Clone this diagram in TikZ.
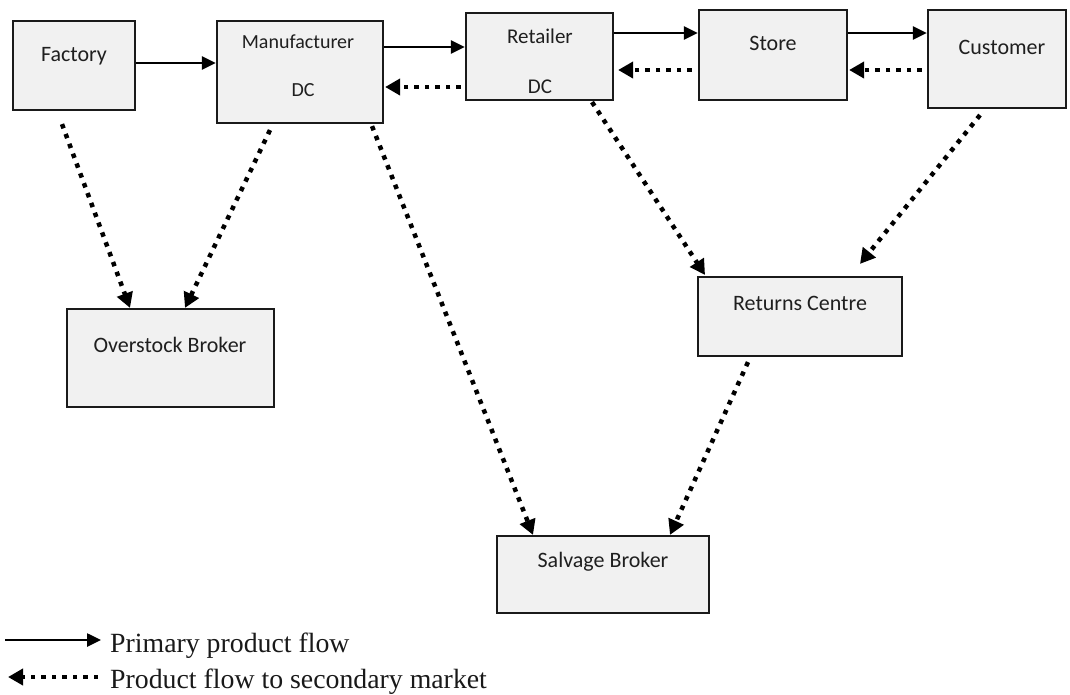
\documentclass[tikz,border=0pt]{standalone}
\usepackage{fontspec}
\setmainfont{Liberation Serif}
\newfontfamily\boxfont{Carlito}
\usetikzlibrary{arrows.meta}
\definecolor{boxfill}{HTML}{F1F1F1}
\definecolor{boxline}{HTML}{1A1A1A}
\tikzset{
  box/.style={draw=boxline,line width=2.2pt,fill=boxfill,inner sep=0pt},
  lbl/.style={font=\boxfont\fontsize{22}{26}\selectfont,text=black!88,inner sep=0pt},
  lblsmall/.style={font=\boxfont\fontsize{20}{24}\selectfont,text=black!88,inner sep=0pt},
  lblmid/.style={font=\boxfont\fontsize{21}{25}\selectfont,text=black!88,inner sep=0pt},
  prim/.style={line width=2.6pt,-{Triangle[length=14pt,width=13pt]}},
  sec/.style={line width=4.5pt,dash pattern=on 4.5pt off 6pt,-{Triangle[length=15pt,width=16pt]}},
  legtext/.style={font=\fontsize{27.8}{31}\selectfont,anchor=base west,inner sep=0pt,text=black!90}
}
\begin{document}
\begin{tikzpicture}[x=1pt,y=-1pt]
\useasboundingbox (0,0) rectangle (1070,694);
% boxes
\node[box,minimum width=122pt,minimum height=89pt] (factory) at (74,65.5) {};
\node[box,minimum width=166pt,minimum height=102pt] (manuf) at (300,72) {};
\node[box,minimum width=147pt,minimum height=87pt] (retailer) at (539.5,56.5) {};
\node[box,minimum width=148pt,minimum height=90pt] (store) at (773,55) {};
\node[box,minimum width=138pt,minimum height=98pt] (customer) at (997,59) {};
\node[box,minimum width=207pt,minimum height=98pt] (over) at (170.5,358) {};
\node[box,minimum width=204pt,minimum height=79pt] (returns) at (800,316.5) {};
\node[box,minimum width=212pt,minimum height=77pt] (salvage) at (603,574.5) {};
% labels
\node[lbl] (tfactory) at (74,56) {Factory};
\node[lblsmall] (tmanuf) at (298,42) {Manufacturer};
\node[lblsmall] (tmdc) at (303,90) {DC};
\node[lblmid] (tretailer) at (540,36) {Retailer};
\node[lblmid] (trdc) at (540,87) {DC};
\node[lbl] (tstore) at (773,43) {Store};
\node[lbl] (tcustomer) at (1002,47) {Customer};
\node[lbl] (tover) at (170,345) {Overstock Broker};
\node[lbl] (treturns) at (800,303) {Returns Centre};
\node[lbl] (tsalvage) at (603,562) {Salvage Broker};
% primary flow
\draw[prim] ([yshift=2.5pt]factory.east) -- ([yshift=9pt]manuf.west);
\draw[prim] ([yshift=25pt]manuf.east) -- ([yshift=9.5pt]retailer.west);
\draw[prim] ([yshift=23.5pt]retailer.east) -- ([yshift=22pt]store.west);
\draw[prim] ([yshift=22pt]store.east) -- ([yshift=26pt]customer.west);
% secondary flow, horizontal
\draw[sec] ([xshift=-4pt,yshift=-30.5pt]retailer.west) -- ([xshift=1pt,yshift=-15pt]manuf.east);
\draw[sec] ([xshift=-6pt,yshift=-15pt]store.west) -- ([xshift=4pt,yshift=-13.5pt]retailer.east);
\draw[sec] ([xshift=-5pt,yshift=-11pt]customer.west) -- ([xshift=1pt,yshift=-15pt]store.east);
% secondary flow, diagonal
\draw[sec] ([xshift=-12pt,yshift=-13pt]factory.south) -- ([xshift=-40.5pt]over.north);
\draw[sec] ([xshift=-30pt,yshift=-6pt]manuf.south) -- ([xshift=14.5pt]over.north);
\draw[sec] ([xshift=72pt,yshift=-2pt]manuf.south) -- ([xshift=-70pt]salvage.north);
\draw[sec] ([xshift=52.5pt,yshift=-1pt]retailer.south) -- ([xshift=-95pt,yshift=1pt]returns.north);
\draw[sec] ([xshift=-17pt,yshift=-6pt]customer.south) -- ([xshift=60pt,yshift=12pt]returns.north);
\draw[sec] ([xshift=-52pt,yshift=-5pt]returns.south) -- ([xshift=67pt]salvage.north);
% legend
\node[legtext] (leg1) at (110,652) {Primary product flow};
\node[legtext] (leg2) at (110,688) {Product flow to secondary market};
\coordinate (lega) at (5,640);
\coordinate (legaend) at (101,640);
\coordinate (legb) at (8,677);
\coordinate (legbstart) at (98,677);
\draw[prim] (lega) -- (legaend);
\draw[sec] (legbstart) -- (legb);
\end{tikzpicture}
\end{document}
